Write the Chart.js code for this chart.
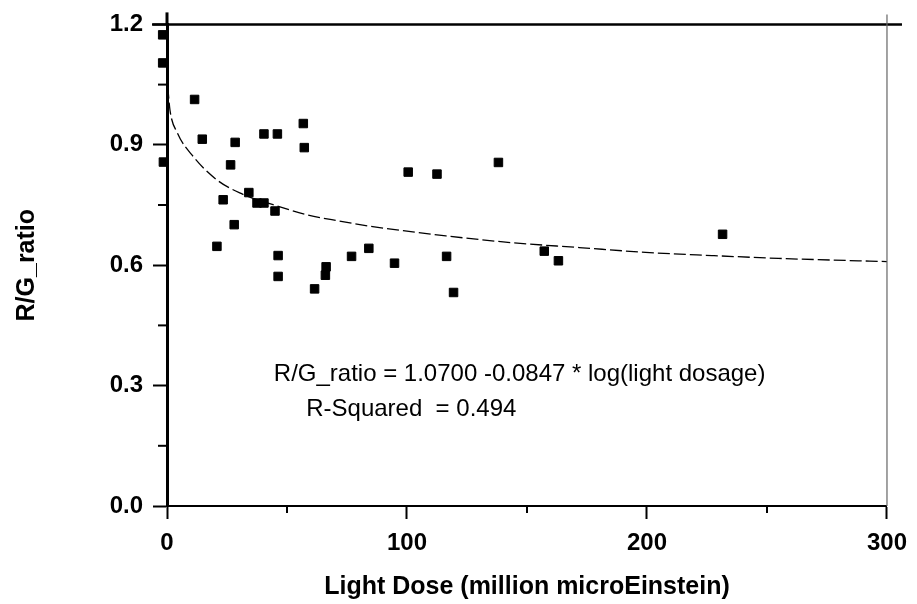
<!DOCTYPE html>
<html>
<head>
<meta charset="utf-8">
<script src="https://cdn.jsdelivr.net/npm/chart.js@4.4.0/dist/chart.umd.min.js"></script>
<style>
  html, body { margin: 0; padding: 0; background: #fff; }
  canvas { display: block; }
</style>
</head>
<body>
<canvas id="chart" width="917" height="604"></canvas>
<script>
// measured points (light dose vs R/G ratio)
const doseX = [-1.8, -1.8, -1.5, 11.5, 14.7, 28.4, 40.4, 46.0, 56.8, 57.2,
               26.5, 23.4, 34.1, 37.5, 40.4, 45.0, 28.0, 20.8, 46.3, 46.3,
               61.5, 66.3, 66.0, 76.9, 84.1, 94.8, 100.5, 112.5, 138.1, 116.5,
               119.4, 157.2, 163.1, 231.5];
const ratioY = [1.174, 1.104, 0.857, 1.013, 0.914, 0.906, 0.927, 0.927, 0.953, 0.893,
                0.850, 0.763, 0.781, 0.755, 0.755, 0.735, 0.701, 0.647, 0.624, 0.572,
                0.541, 0.596, 0.575, 0.622, 0.642, 0.605, 0.832, 0.827, 0.856, 0.622,
                0.532, 0.635, 0.611, 0.677];

// fitted curve
const fitX = [0.3, 1.25, 4.3, 10.9, 20.7, 30.3, 44.2, 58.1, 71.9, 85.7, 102.4,
              116.2, 143.9, 171.7, 199.4, 227.1, 254.8, 300];
const fitY = [1.045, 0.986, 0.93, 0.871, 0.813, 0.780, 0.751, 0.726, 0.710, 0.696, 0.683,
              0.673, 0.656, 0.644, 0.632, 0.624, 0.617, 0.609];

const yTicks = [0, 0.3, 0.6, 0.9, 1.2];
const yMinorTicks = [0.15, 0.45, 0.75, 1.05];
const xTicks = [0, 100, 200, 300];
const xMinorTicks = [50, 150, 250];

const equationLines = [
  { text: 'R/G_ratio = 1.0700 -0.0847 * log(light dosage)', x: 44.5, y: 0.328 },
  { text: 'R-Squared  = 0.494', x: 58, y: 0.241 }
];

const FONT = '"Liberation Sans", Arial, sans-serif';
Chart.defaults.font.family = FONT;
Chart.defaults.color = '#000';

const framePlugin = {
  id: 'frame',
  afterDraw(chart) {
    const { ctx, chartArea: a, scales } = chart;
    const xs = scales.x, ys = scales.y;
    ctx.save();
    ctx.strokeStyle = '#000';
    // top line
    ctx.lineWidth = 2.5;
    ctx.beginPath();
    ctx.moveTo(a.left - 15, a.top);
    ctx.lineTo(a.right + 15, a.top);
    ctx.stroke();
    // left axis goes a bit above the top
    ctx.lineWidth = 3;
    ctx.beginPath();
    ctx.moveTo(a.left, a.top - 12);
    ctx.lineTo(a.left, a.top);
    ctx.stroke();
    // right border
    ctx.strokeStyle = '#666';
    ctx.lineWidth = 1.2;
    ctx.beginPath();
    ctx.moveTo(a.right, a.top - 10);
    ctx.lineTo(a.right, a.bottom);
    ctx.stroke();
    // minor ticks
    ctx.strokeStyle = '#000';
    ctx.lineWidth = 2;
    yMinorTicks.forEach(v => {
      const p = ys.getPixelForValue(v);
      ctx.beginPath();
      ctx.moveTo(a.left - 9, p);
      ctx.lineTo(a.left, p);
      ctx.stroke();
    });
    xMinorTicks.forEach(v => {
      const p = xs.getPixelForValue(v);
      ctx.beginPath();
      ctx.moveTo(p, a.bottom);
      ctx.lineTo(p, a.bottom + 7);
      ctx.stroke();
    });
    // regression text
    ctx.fillStyle = '#000';
    ctx.font = '24px ' + FONT;
    ctx.textBaseline = 'middle';
    ctx.textAlign = 'left';
    equationLines.forEach(l => {
      ctx.fillText(l.text, xs.getPixelForValue(l.x), ys.getPixelForValue(l.y));
    });
    ctx.restore();
  }
};

new Chart(document.getElementById('chart'), {
  type: 'scatter',
  data: {
    datasets: [{
      label: 'R/G_ratio',
      data: doseX.map((x, i) => ({ x, y: ratioY[i] })),
      pointStyle: 'rect',
      pointRadius: 6,
      pointBorderWidth: 1,
      backgroundColor: '#000',
      borderColor: '#000',
      clip: false
    }, {
      type: 'line',
      label: 'fit',
      data: fitX.map((x, i) => ({ x, y: fitY[i] })),
      borderColor: '#000',
      borderWidth: 1.3,
      borderDash: [12, 4],
      pointRadius: 0,
      cubicInterpolationMode: 'monotone',
      fill: false,
      clip: false
    }]
  },
  options: {
    responsive: false,
    animation: false,
    devicePixelRatio: 1,
    layout: { padding: { top: 20, right: 28, left: 0, bottom: 0 } },
    plugins: { legend: { display: false }, tooltip: { enabled: false } },
    scales: {
      x: {
        type: 'linear',
        min: 0, max: 300,
        afterFit: s => { s.height = 98; },
        afterBuildTicks: s => { s.ticks = xTicks.map(v => ({ value: v })); },
        ticks: { font: { size: 24, weight: 'bold' }, padding: 10, maxRotation: 0 },
        grid: { drawOnChartArea: false, tickLength: 13, tickWidth: 2, tickColor: '#000' },
        border: { color: '#000', width: 2 },
        title: {
          display: true,
          text: 'Light Dose (million microEinstein)',
          font: { size: 25, weight: 'bold' },
          padding: { top: 0, bottom: 2 }
        }
      },
      y: {
        type: 'linear',
        min: 0, max: 1.2,
        afterFit: s => { s.width = 167; },
        afterBuildTicks: s => { s.ticks = yTicks.map(v => ({ value: v })); },
        ticks: { font: { size: 24, weight: 'bold' }, padding: 10, callback: v => v.toFixed(1) },
        grid: { drawOnChartArea: false, tickLength: 14, tickWidth: 2, tickColor: '#000' },
        border: { color: '#000', width: 3 },
        title: {
          display: true,
          text: 'R/G_ratio',
          font: { size: 25, weight: 'bold' },
          padding: { top: 12, bottom: 0 }
        }
      }
    }
  },
  plugins: [framePlugin]
});
</script>
</body>
</html>
